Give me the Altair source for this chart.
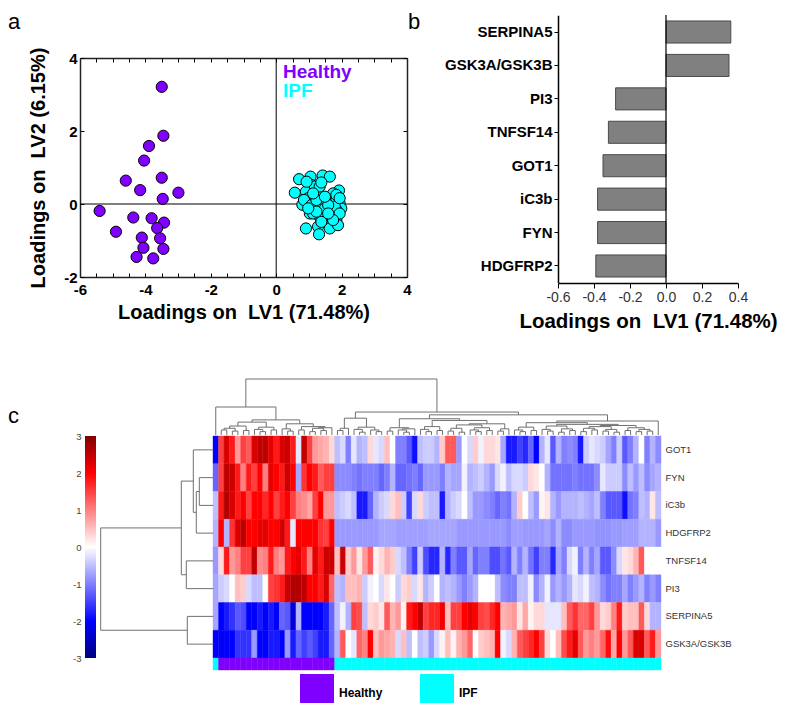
import altair as alt
import pandas as pd

# ---------------- data: panel a (PLS-DA loadings scatter) ----------------
healthy_x = [-3.50, -3.45, -3.89, -4.04, -3.50, -4.60, -4.16, -2.99, -3.47, -5.40, -4.37,
             -3.81, -3.43, -3.64, -4.90, -4.11, -3.55, -4.06, -3.45, -4.27, -3.76]
healthy_y = [3.21, 1.87, 1.59, 1.19, 0.72, 0.64, 0.38, 0.31, 0.14, -0.19, -0.37,
             -0.39, -0.51, -0.66, -0.76, -0.92, -0.94, -1.20, -1.23, -1.45, -1.49]
ipf_x = [0.70, 1.05, 1.42, 1.64, 1.08, 0.57, 0.91, 1.23, 1.92, 1.89,
         0.98, 1.33, 1.59, 1.74, 0.80, 1.03, 1.94, 1.99, 1.38, 1.18,
         1.31, 1.64, 1.84, 1.03, 1.49, 1.74, 1.64, 1.33, 1.84, 0.91,
         1.28, 1.64, 1.89, 1.31, 1.13, 1.74, 1.49, 0.85, 1.84, 1.49,
         1.18, 0.93, 1.79, 1.59, 1.13, 1.94, 1.74, 1.38, 1.08, 1.23,
         1.84, 1.33, 1.49, 1.59, 1.23, 0.98, 1.94, 1.13, 1.38]
ipf_y = [0.68, 0.75, 0.78, 0.75, 0.52, 0.31, 0.34, 0.37, 0.37, 0.20,
         0.16, 0.20, 0.11, 0.04, -0.02, 0.06, 0.02, -0.12, -0.03, -0.12,
         -0.07, -0.15, -0.16, -0.26, -0.26, -0.30, -0.35, -0.35, -0.44, -0.67,
         -0.62, -0.67, -0.58, -0.83, 0.11, 0.29, 0.06, 0.11, 0.11, -0.12,
         0.48, 0.61, -0.07, -0.03, -0.26, -0.26, -0.44, -0.49, -0.03, 0.11,
         0.25, 0.48, 0.20, -0.26, -0.21, -0.12, 0.16, 0.29, 0.59]

# ---------------- data: panel b (LV1 loadings) ----------------
bar_genes = ["SERPINA5", "GSK3A/GSK3B", "PI3", "TNFSF14", "GOT1", "iC3b", "FYN", "HDGFRP2"]
bar_loadings = [0.36, 0.35, -0.28, -0.32, -0.35, -0.38, -0.38, -0.39]

# ---------------- data: panel c (heatmap, z-scores, 81 samples) ----------------
heat_genes = ["GOT1", "FYN", "iC3b", "HDGFRP2", "TNFSF14", "PI3", "SERPINA5", "GSK3A/GSK3B"]
heat_GOT1 = [-2.0, 1.5, 2.3, 1.8, 0.8, 1.5, 1.3, 2.3, 2.5, 2.5, 2.2, 1.8, 2.3, 2.4, 1.8, -0.2, 2.5, 1.5, 0.8, 0.7, 0.6, 0.3, -0.5, -0.3, -1.0, -0.2, -0.6,
             -0.5, 0.3, -0.2, -0.3, 0.5, 0.0, -1.0, -1.0, -1.3, -1.9, -0.5, -0.4, -0.4, -0.6, 0.4, 1.3, 1.3, -0.8, 0.0, -0.3, 0.4, -0.1, 0.3, 0.3, 0.2, -0.7, -1.8,
             -1.8, -1.5, -1.7, -1.2, -2.0, -0.6, -0.2, -1.3, -0.6, -1.0, -0.9, -1.0, -1.8, -0.4, -0.2, -0.3, -0.4, -0.7, -1.0, -0.4, -1.3, -1.0, -0.6, 0.0, -1.0, -0.6, -0.9]
heat_FYN = [-1.2, 1.5, 2.5, 2.4, 1.8, 1.0, 1.8, 1.5, 2.0, 1.0, 2.2, 2.0, 1.8, 2.4, 2.0, -0.7, 1.6, 2.0, 1.8, 1.3, 1.5, 1.5, -0.9, -0.9, -0.9, -1.0, -1.1,
            -1.0, -1.0, -1.0, -1.2, -1.0, -0.6, -1.2, -1.2, -1.1, -1.0, -1.2, -0.8, -0.8, -0.8, -1.0, -0.6, -0.7, -0.7, -0.1, -0.6, -0.5, -0.4, -0.6, -0.8, -0.3, -0.1, -0.5,
            -0.3, -0.3, -0.4, 0.3, 0.2, 0.0, -0.6, -1.1, -1.1, -1.1, -1.1, -1.0, -1.1, -1.1, -1.1, -0.9, -0.2, -0.4, -0.4, -0.4, -0.9, -0.5, -0.8, -0.5, -0.9, -0.7, -0.6]
heat_iC3b = [-0.5, 1.8, 2.6, 2.3, 1.8, 2.0, 1.5, 2.0, 2.0, 1.7, 2.0, 1.5, 1.8, 2.0, 1.5, 1.0, 0.9, 0.7, 1.5, 2.0, 0.8, 0.8, -0.5, -0.4, -0.3, -0.5, -1.8,
             -1.8, -1.2, -0.6, -0.4, -0.3, 0.3, 0.5, -0.4, -1.5, -0.3, 0.3, -0.4, -0.5, -0.5, -1.8, -0.6, -0.4, -0.3, 0.0, -0.5, -0.8, -0.8, -0.9, -1.0, -1.2, -1.0, -1.1,
             -0.6, 0.4, 0.0, -0.5, -0.8, 0.1, 0.2, -0.6, -0.8, -0.6, -0.6, -0.6, -0.5, -0.6, -0.7, -0.5, -1.0, -1.3, -1.3, -1.3, -1.9, -1.1, -1.0, -0.5, -0.6, 0.2, -0.5]
heat_HDGFRP2 = [-0.6, 2.0, -0.6, 1.6, 2.3, 2.5, 2.0, 2.0, 2.2, 2.2, 2.0, 2.0, 2.4, 1.8, -0.2, 2.0, 2.0, 2.0, 2.0, 1.6, 1.5, 2.0, -0.8, -0.8, -0.8, -0.8, -0.8,
                -0.8, -0.8, -0.8, -0.7, -0.7, -0.7, -0.75, -0.75, -0.75, -0.75, -0.75, -0.75, -0.7, -0.7, -0.7, -0.7, -0.7, -0.8, -0.8, -0.8, -0.8, -0.8, -0.8, -0.8, -0.8, -0.8, -0.9,
                -0.75, -0.75, -0.8, -0.8, -0.8, -0.8, -0.7, -0.9, -0.6, -0.9, -0.9, -0.8, -0.8, -0.8, -0.8, -0.85, -0.85, -0.85, -0.8, -0.8, -0.75, -0.75, -0.75, -0.6, -0.6, -0.6, -0.8]
heat_TNFSF14 = [-0.8, 0.3, 1.8, 0.8, 1.0, 1.5, 1.5, 2.5, 0.9, 1.0, 1.8, 1.0, 0.8, 1.8, 2.0, 2.2, 1.8, 1.0, 2.2, 1.8, 2.4, 2.4, 0.5, 2.4, 0.4, 0.8, 0.2,
                0.8, 1.3, 0.1, 0.3, 0.6, 0.4, -0.3, -0.5, -1.0, -1.5, -0.4, -1.4, -1.7, -1.7, -0.6, -1.7, -1.0, -1.3, -1.3, -0.7, -1.2, -1.0, -1.0, -1.4, -1.4, -1.1, -1.3,
                -0.6, -1.0, -0.6, -1.1, -1.5, -1.0, -1.0, -1.7, -0.7, -1.0, -0.3, -0.1, -1.0, -0.6, -1.0, -0.7, -1.3, -1.3, -0.9, -0.3, 0.2, 0.3, 0.6, 1.3, 0.0, 0.0, 0.0]
heat_PI3 = [-0.7, -0.4, -0.3, 0.0, 0.5, 0.4, -0.3, -0.5, -0.5, 0.0, 1.5, 1.6, 1.8, 2.4, 2.6, 2.6, 2.5, 2.0, 2.0, 1.8, 2.3, 1.2, -0.5, -0.6, 0.5, 0.5, 0.6,
            -0.4, -0.1, 0.0, -0.3, 0.2, 0.0, -0.4, 0.3, 0.4, -0.3, 0.2, -0.6, -0.4, 0.0, -0.6, -0.5, -0.6, -0.8, -1.0, -0.8, -0.6, 0.0, 0.0, 0.0, -0.5, -0.9, -1.0,
            -1.0, -0.5, -0.5, -0.1, -0.9, -0.6, -0.1, -0.8, -0.6, -0.8, -0.6, -0.2, -0.3, -0.1, -0.5, -0.6, -0.9, -1.1, -1.0, -1.0, -0.7, -1.0, -0.8, -0.6, -1.0, -0.8, -1.0]
heat_SERPINA5 = [-0.7, -2.0, -1.8, -1.6, -1.3, -1.4, -2.0, -2.0, -1.8, -2.0, -1.8, -2.0, -1.2, -1.3, -2.3, -0.6, -2.0, -2.0, -2.0, -2.0, -1.8, -1.2, -0.5, -0.1, -0.6, 1.5, 1.4,
                 -0.5, 0.3, 0.4, 0.2, 1.3, 0.6, 0.8, 0.1, 1.8, 2.0, 2.5, 1.5, 1.7, 1.7, 2.1, 0.5, 1.5, 1.5, 2.0, 2.2, 2.0, 1.5, 1.4, 1.7, 2.0, 0.6, 0.7,
                 0.8, 0.2, 0.7, 0.1, 0.3, 0.3, -0.2, -0.2, -0.2, 0.5, 1.3, 1.6, 1.2, 1.2, 1.5, 0.8, 0.3, 0.4, 1.0, 1.8, 0.4, 0.5, 0.5, 1.3, 0.3, -0.6, -0.6]
heat_GSK3 = [-2.0, -2.1, -2.0, -2.0, -1.6, -1.6, -1.6, -0.8, -2.0, -2.0, -1.8, -1.8, -2.0, -0.8, -1.8, -1.2, -1.5, -1.3, -1.5, -1.8, -1.8, -1.2, -0.6, 1.3, 0.0, -0.2, 1.2,
             1.0, 2.0, 0.5, 0.8, 0.7, 0.6, -0.3, 0.5, -0.5, 0.0, -0.5, -0.4, -0.8, -0.3, 0.1, 0.5, 0.1, 0.6, 0.8, 1.2, 0.0, 0.4, 0.5, 0.6, 2.0, -0.1, -0.3,
             0.6, 1.3, 1.5, 1.7, 2.0, 1.5, 0.3, 0.0, 0.5, 1.4, 1.8, 2.2, 1.3, 0.8, 1.0, 0.8, 1.2, 1.9, 0.7, 2.0, 0.8, 1.3, 2.3, 2.3, 1.3, 1.8, 0.8]
class_runs = [("IPF", 1), ("Healthy", 21), ("IPF", 59)]
# adjacent-leaf merge heights of the sample dendrogram (80 gaps for 81 leaves)
col_gaps = [5.0,
            0.9, 1.2, 0.7, 1.6, 0.8, 2.3, 1.0, 0.6, 1.4, 0.9, 2.7, 1.1, 0.7, 2.0, 0.9, 1.5, 0.6, 1.2, 0.8, 1.3,
            10.0,
            0.8, 1.2, 3.0, 1.0, 0.5, 1.4, 0.9, 0.6, 4.1,
            0.7, 1.3, 0.9, 0.5, 1.1, 2.9, 1.0, 0.6, 1.5, 0.8, 2.6, 0.7, 1.2, 0.5, 1.8, 0.9, 0.6, 1.3, 0.8, 2.0, 0.7, 1.1, 3.6,
            0.9, 0.6, 1.4, 0.8, 2.2, 1.0, 0.7, 1.6, 0.5, 1.1, 0.8, 1.9, 0.6, 1.2, 0.9, 1.5, 0.7, 1.0, 0.5, 1.7, 0.8, 1.3, 0.6, 1.0, 0.7, 2.5]
# adjacent-leaf merge heights of the protein dendrogram (7 gaps for 8 rows)
row_gaps = [2.0, 1.4, 1.7, 3.2, 2.7, 11.26, 2.6]
legend_classes = ["Healthy", "IPF"]

heat_rows = [heat_GOT1, heat_FYN, heat_iC3b, heat_HDGFRP2, heat_TNFSF14, heat_PI3, heat_SERPINA5, heat_GSK3]
for r in heat_rows:
    assert len(r) == 81, len(r)
assert len(col_gaps) == 80

# ---------------- layout helpers ----------------
FONT = "Liberation Sans"
PURPLE, CYAN = "#8000ff", "#00ffff"
OX, OY = 8, 8
W, H = 771, 695


def px(v):
    return v - OX


def py(v):
    return v - OY


def lin(domain, rng):
    return alt.Scale(domain=domain, range=rng, zero=False, nice=False)


def neg(fmt):
    return f"datum.value < 0 ? '-' + format(-datum.value, '{fmt}') : format(datum.value, '{fmt}')"


def label(text, x, y, size, color="black", weight="bold", font=FONT, align="left", baseline="middle"):
    return alt.Chart(pd.DataFrame({"t": [text]})).mark_text(
        align=align, baseline=baseline, fontSize=size, fontWeight=weight, font=font, color=color
    ).encode(x=alt.value(x), y=alt.value(y), text="t:N")


def dendro(gaps):
    segs = []

    def build(lo, hi):
        if lo == hi:
            return lo + 0.5, 0.0
        k = max(range(lo, hi), key=lambda i: gaps[i])
        h = gaps[k]
        xl, hl = build(lo, k)
        xr, hr = build(k + 1, hi)
        segs.append((xl, xl, hl, h))
        segs.append((xr, xr, hr, h))
        segs.append((xl, xr, h, h))
        return (xl + xr) / 2, h

    build(0, len(gaps))
    return pd.DataFrame(segs, columns=["p1", "p2", "h1", "h2"])


cls_scale = alt.Scale(domain=legend_classes, range=[PURPLE, CYAN])
TITLE_LV1 = "Loadings on\u00a0 LV1 (71.48%)"
TITLE_LV2 = "Loadings on\u00a0 LV2 (6.15%)"
layers = []

# ---------------- panel a ----------------
dfa = pd.DataFrame({
    "x": healthy_x + ipf_x,
    "y": healthy_y + ipf_y,
    "group": ["Healthy"] * len(healthy_x) + ["IPF"] * len(ipf_x),
})
xa = lin([-6, 4], [px(80), px(407)])
ya = lin([-2, 4], [py(277), py(58)])
minor_x = [-6 + 0.5 * i for i in range(21)]
zero_a = pd.DataFrame({"x": [0, -6], "x2": [0, 4], "y": [-2, 0], "y2": [4, 0]})

layers.append(alt.Chart(zero_a).mark_rule(color="black", strokeWidth=1).encode(
    x=alt.X("x:Q", scale=xa, axis=alt.Axis(orient="bottom", offset=py(58) - H, values=minor_x, tickSize=4,
                                           tickColor="black", labels=False, domainColor="#222222",
                                           domainWidth=1.5, title=None)),
    x2="x2:Q",
    y=alt.Y("y:Q", scale=ya, axis=alt.Axis(orient="left", offset=-px(407), values=[-2, 0, 2, 4], tickSize=4,
                                           tickColor="black", labels=False, domainColor="#222222",
                                           domainWidth=1.5, title=None)),
    y2="y2:Q",
))
layers.append(alt.Chart(zero_a).mark_point(opacity=0).encode(
    x=alt.X("x:Q", scale=xa, axis=alt.Axis(orient="top", offset=-py(277), values=minor_x, tickSize=4,
                                           tickColor="black", labels=False, domain=False, title=None)),
    y=alt.Y("y:Q", scale=ya, axis=alt.Axis(orient="right", offset=px(80) - W, values=[-2, 0, 2, 4], tickSize=4,
                                           tickColor="black", labels=False, domain=False, title=None)),
))
layers.append(alt.Chart(dfa).mark_circle(size=125, opacity=1, stroke="black", strokeWidth=1).encode(
    x=alt.X("x:Q", scale=xa, axis=alt.Axis(
        orient="bottom", offset=py(277) - H, values=[-6, -4, -2, 0, 2, 4], labelExpr=neg("d"), ticks=False,
        labelPadding=5, labelFontSize=15, labelFontWeight="bold", labelColor="black", labelFlush=False,
        domainColor="#222222", domainWidth=1.5, title=TITLE_LV1, titleFontSize=20, titleFontWeight="bold",
        titleColor="black", titlePadding=5)),
    y=alt.Y("y:Q", scale=ya, axis=alt.Axis(
        orient="left", offset=-px(80), values=[-2, 0, 2, 4], labelExpr=neg("d"), ticks=False,
        labelPadding=3, labelFontSize=15, labelFontWeight="bold", labelColor="black", labelFlush=False,
        domainColor="#222222", domainWidth=1.5, title=TITLE_LV2, titleFontSize=20, titleFontWeight="bold",
        titleColor="black", titlePadding=15)),
    color=alt.Color("group:N", scale=cls_scale, legend=None),
))
layers.append(label("Healthy", px(283), py(72), 19, color=PURPLE))
layers.append(label("IPF", px(283), py(91), 19, color=CYAN))

# ---------------- panel b ----------------
dfb = pd.DataFrame({"gene": bar_genes, "loading": bar_loadings, "zero": [0.0] * len(bar_genes)})
xb = lin([-0.6, 0.4], [px(558), px(738)])
yb = alt.Scale(domain=bar_genes, range=[py(15.3), py(282.7)], paddingInner=0.34, paddingOuter=0.17)
layers.append(alt.Chart(dfb).mark_bar(color="#808080", stroke="#4a4a4a", strokeWidth=1).encode(
    x=alt.X("loading:Q", scale=xb, axis=alt.Axis(
        orient="bottom", offset=py(283) - H, values=[-0.6, -0.4, -0.2, 0, 0.2, 0.4], labelExpr=neg(".1f"),
        tickSize=5, tickColor="black", labelPadding=2, labelFontSize=14, labelColor="#333333",
        labelFlush=False, domainColor="black", domainWidth=1.5, title=TITLE_LV1, titleFontSize=20.5,
        titleFontWeight="bold", titleColor="black", titlePadding=7)),
    x2="zero:Q",
    y=alt.Y("gene:N", scale=yb, sort=bar_genes, axis=alt.Axis(
        orient="left", offset=-px(558), tickSize=4, tickColor="black", labelPadding=2, labelFontSize=15,
        labelFontWeight="bold", labelColor="black", domainColor="black", domainWidth=1.5, title=None)),
))
zb = pd.DataFrame({"x": [0.0], "y": [0.0], "y2": [1.0]})
layers.append(alt.Chart(zb).mark_rule(color="black", strokeWidth=1.2).encode(
    x=alt.X("x:Q", scale=xb, axis=None),
    y=alt.Y("y:Q", scale=lin([0, 1], [py(283), py(15)]), axis=None),
    y2="y2:Q",
))

# ---------------- panel c ----------------
rows = []
for g, vals in zip(heat_genes, heat_rows):
    for i, v in enumerate(vals):
        rows.append({"gene": g, "c0": i, "c1": i + 1, "value": v})
dfh = pd.DataFrame(rows)
xh = lin([0, 81], [px(213), px(661)])
yh = alt.Scale(domain=heat_genes, range=[py(436), py(658)], paddingInner=0, paddingOuter=0)
heat_scale = alt.Scale(domain=[-3, -2, 0, 2, 3], range=["#000080", "#0000ff", "#ffffff", "#ff0000", "#800000"],
                       interpolate="rgb", clamp=True)
layers.append(alt.Chart(dfh).mark_rect(strokeWidth=0.4).encode(
    x=alt.X("c0:Q", scale=xh, axis=None),
    x2="c1:Q",
    y=alt.Y("gene:N", scale=yh, sort=heat_genes, axis=alt.Axis(
        orient="right", offset=px(661) - W, ticks=False, domain=False, labelPadding=4, labelFontSize=9.5,
        labelColor="#333333", title=None)),
    color=alt.Color("value:Q", scale=heat_scale, legend=None),
    stroke=alt.Stroke("value:Q", scale=heat_scale, legend=None),
))

cls_list = []
for name, n in class_runs:
    cls_list += [name] * n
dfc = pd.DataFrame({"c0": list(range(81)), "c1": list(range(1, 82)), "cls": cls_list,
                    "lo": [0.0] * 81, "hi": [1.0] * 81})
layers.append(alt.Chart(dfc).mark_rect(strokeWidth=0.4).encode(
    x=alt.X("c0:Q", scale=xh, axis=None),
    x2="c1:Q",
    y=alt.Y("lo:Q", scale=lin([0, 1], [py(670), py(658)]), axis=None),
    y2="hi:Q",
    color=alt.Color("cls:N", scale=cls_scale, legend=None),
    stroke=alt.Stroke("cls:N", scale=cls_scale, legend=None),
))

dft = dendro(col_gaps)
layers.append(alt.Chart(dft).mark_rule(color="#707070", strokeWidth=1).encode(
    x=alt.X("p1:Q", scale=xh, axis=None),
    x2="p2:Q",
    y=alt.Y("h1:Q", scale=lin([0, 10], [py(435), py(379)]), axis=None),
    y2="h2:Q",
))
dfr = dendro(row_gaps)
layers.append(alt.Chart(dfr).mark_rule(color="#707070", strokeWidth=1).encode(
    x=alt.X("h1:Q", scale=lin([0, 11.26], [px(213.3), px(100.7)]), axis=None),
    x2="h2:Q",
    y=alt.Y("p1:Q", scale=lin([0, 8], [py(436), py(658)]), axis=None),
    y2="p2:Q",
))

grad = {"gradient": "linear", "x1": 0, "y1": 1, "x2": 0, "y2": 0,
        "stops": [{"offset": 0, "color": "#000080"}, {"offset": 1 / 6, "color": "#0000ff"},
                  {"offset": 0.5, "color": "#ffffff"}, {"offset": 5 / 6, "color": "#ff0000"},
                  {"offset": 1, "color": "#800000"}]}
dfcb = pd.DataFrame({"l": [0.0], "r": [1.0], "lo": [-3.0], "hi": [3.0]})
layers.append(alt.Chart(dfcb).mark_rect(fill=grad).encode(
    x=alt.X("l:Q", scale=lin([0, 1], [px(85), px(96)]), axis=None),
    x2="r:Q",
    y=alt.Y("lo:Q", scale=lin([-3, 3], [py(658), py(436)]), axis=alt.Axis(
        orient="left", offset=-px(85), values=[-3, -2, -1, 0, 1, 2, 3], labelExpr=neg("d"), ticks=False,
        domain=False, labelPadding=4, labelFontSize=9.5, labelColor="#444444", labelFlush=False, title=None)),
    y2="hi:Q",
))

dfl = pd.DataFrame({"cls": legend_classes, "lo": [0.0, 0.0], "hi": [1.0, 1.0]})
xl = alt.Scale(type="band", domain=legend_classes, range=[px(300), px(454)], paddingInner=0.7167, paddingOuter=0)
layers.append(alt.Chart(dfl).mark_rect().encode(
    x=alt.X("cls:N", scale=xl, axis=None),
    y=alt.Y("lo:Q", scale=lin([0, 1], [py(711), py(674)]), axis=None),
    y2="hi:Q",
    color=alt.Color("cls:N", scale=cls_scale, legend=None),
))
layers.append(alt.Chart(dfl).mark_text(align="left", baseline="middle", dx=22, fontSize=12, fontWeight="bold",
                                       font=FONT, color="black").encode(
    x=alt.X("cls:N", scale=xl, axis=None),
    y=alt.value(py(693)),
    text="cls:N",
))

# panel letters
layers.append(label("a", 0, py(29), 22, weight="normal", baseline="alphabetic"))
layers.append(label("b", px(408), py(29), 22, weight="normal", baseline="alphabetic"))
layers.append(label("c", 0, py(423), 22, weight="normal", baseline="alphabetic"))

chart = alt.layer(*layers).resolve_scale(
    x="independent", y="independent", color="independent", stroke="independent"
).properties(
    width=W, height=H, padding=0, autosize=alt.AutoSizeParams(type="none")
).configure_view(stroke=None).configure_axis(grid=False, labelFont=FONT, titleFont=FONT)

chart.save("out.html", embed_options={"renderer": "svg", "actions": False})
